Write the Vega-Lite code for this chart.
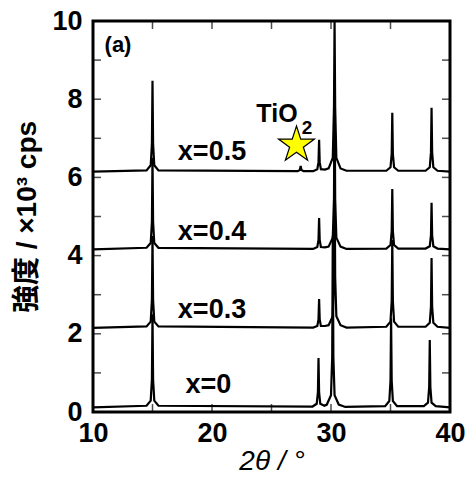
{
  "$schema": "https://vega.github.io/schema/vega-lite/v6.json",
  "width": 357,
  "height": 391,
  "autosize": "none",
  "padding": {"left": 93, "top": 21, "right": 17, "bottom": 69},
  "background": "white",
  "config": {
    "view": {"stroke": "black", "strokeWidth": 3},
    "axis": {"grid": false, "domain": false, "ticks": false, "labelColor": "black", "titleColor": "black", "labelFlush": false}
  },
  "layer": [
    {
      "data": {
        "values": [
          {"s": "x=0", "t": 10, "i": 0.12},
          {"s": "x=0", "t": 14.5, "i": 0.16},
          {"s": "x=0", "t": 14.85, "i": 0.29},
          {"s": "x=0", "t": 14.95, "i": 0.83},
          {"s": "x=0", "t": 15.0, "i": 2.5},
          {"s": "x=0", "t": 15.05, "i": 0.83},
          {"s": "x=0", "t": 15.15, "i": 0.29},
          {"s": "x=0", "t": 15.5, "i": 0.16},
          {"s": "x=0", "t": 28.45, "i": 0.14},
          {"s": "x=0", "t": 28.8, "i": 0.21},
          {"s": "x=0", "t": 28.9, "i": 0.5},
          {"s": "x=0", "t": 28.95, "i": 1.38},
          {"s": "x=0", "t": 29.0, "i": 0.5},
          {"s": "x=0", "t": 29.1, "i": 0.21},
          {"s": "x=0", "t": 29.45, "i": 0.16},
          {"s": "x=0", "t": 29.65, "i": 0.19},
          {"s": "x=0", "t": 30.0, "i": 0.43},
          {"s": "x=0", "t": 30.1, "i": 1.4},
          {"s": "x=0", "t": 30.15, "i": 4.5},
          {"s": "x=0", "t": 30.2, "i": 1.4},
          {"s": "x=0", "t": 30.3, "i": 0.43},
          {"s": "x=0", "t": 30.65, "i": 0.19},
          {"s": "x=0", "t": 31.2, "i": 0.13},
          {"s": "x=0", "t": 34.55, "i": 0.15},
          {"s": "x=0", "t": 34.9, "i": 0.28},
          {"s": "x=0", "t": 35.0, "i": 0.8},
          {"s": "x=0", "t": 35.05, "i": 2.4},
          {"s": "x=0", "t": 35.1, "i": 0.8},
          {"s": "x=0", "t": 35.2, "i": 0.28},
          {"s": "x=0", "t": 35.55, "i": 0.15},
          {"s": "x=0", "t": 37.8, "i": 0.15},
          {"s": "x=0", "t": 38.15, "i": 0.24},
          {"s": "x=0", "t": 38.25, "i": 0.64},
          {"s": "x=0", "t": 38.3, "i": 1.84},
          {"s": "x=0", "t": 38.35, "i": 0.64},
          {"s": "x=0", "t": 38.45, "i": 0.24},
          {"s": "x=0", "t": 38.8, "i": 0.15},
          {"s": "x=0", "t": 40, "i": 0.12},
          {"s": "x=0.3", "t": 10, "i": 2.15},
          {"s": "x=0.3", "t": 14.5, "i": 2.19},
          {"s": "x=0.3", "t": 14.85, "i": 2.31},
          {"s": "x=0.3", "t": 14.95, "i": 2.86},
          {"s": "x=0.3", "t": 15.0, "i": 4.5},
          {"s": "x=0.3", "t": 15.05, "i": 2.86},
          {"s": "x=0.3", "t": 15.15, "i": 2.31},
          {"s": "x=0.3", "t": 15.5, "i": 2.19},
          {"s": "x=0.3", "t": 28.5, "i": 2.16},
          {"s": "x=0.3", "t": 28.85, "i": 2.2},
          {"s": "x=0.3", "t": 28.95, "i": 2.37},
          {"s": "x=0.3", "t": 29.0, "i": 2.89},
          {"s": "x=0.3", "t": 29.05, "i": 2.37},
          {"s": "x=0.3", "t": 29.15, "i": 2.2},
          {"s": "x=0.3", "t": 29.5, "i": 2.2},
          {"s": "x=0.3", "t": 29.8, "i": 2.22},
          {"s": "x=0.3", "t": 30.15, "i": 2.45},
          {"s": "x=0.3", "t": 30.25, "i": 3.45},
          {"s": "x=0.3", "t": 30.3, "i": 6.5},
          {"s": "x=0.3", "t": 30.35, "i": 3.45},
          {"s": "x=0.3", "t": 30.45, "i": 2.45},
          {"s": "x=0.3", "t": 30.8, "i": 2.22},
          {"s": "x=0.3", "t": 31.3, "i": 2.16},
          {"s": "x=0.3", "t": 34.65, "i": 2.18},
          {"s": "x=0.3", "t": 35.0, "i": 2.31},
          {"s": "x=0.3", "t": 35.1, "i": 2.83},
          {"s": "x=0.3", "t": 35.15, "i": 4.4},
          {"s": "x=0.3", "t": 35.2, "i": 2.83},
          {"s": "x=0.3", "t": 35.3, "i": 2.31},
          {"s": "x=0.3", "t": 35.65, "i": 2.18},
          {"s": "x=0.3", "t": 37.95, "i": 2.18},
          {"s": "x=0.3", "t": 38.3, "i": 2.28},
          {"s": "x=0.3", "t": 38.4, "i": 2.69},
          {"s": "x=0.3", "t": 38.45, "i": 3.94},
          {"s": "x=0.3", "t": 38.5, "i": 2.69},
          {"s": "x=0.3", "t": 38.6, "i": 2.28},
          {"s": "x=0.3", "t": 38.95, "i": 2.18},
          {"s": "x=0.3", "t": 40, "i": 2.15},
          {"s": "x=0.4", "t": 10, "i": 4.16},
          {"s": "x=0.4", "t": 14.5, "i": 4.2},
          {"s": "x=0.4", "t": 14.85, "i": 4.32},
          {"s": "x=0.4", "t": 14.95, "i": 4.86},
          {"s": "x=0.4", "t": 15.0, "i": 6.5},
          {"s": "x=0.4", "t": 15.05, "i": 4.86},
          {"s": "x=0.4", "t": 15.15, "i": 4.32},
          {"s": "x=0.4", "t": 15.5, "i": 4.2},
          {"s": "x=0.4", "t": 28.5, "i": 4.17},
          {"s": "x=0.4", "t": 28.85, "i": 4.22},
          {"s": "x=0.4", "t": 28.95, "i": 4.4},
          {"s": "x=0.4", "t": 29.0, "i": 4.96},
          {"s": "x=0.4", "t": 29.05, "i": 4.4},
          {"s": "x=0.4", "t": 29.15, "i": 4.22},
          {"s": "x=0.4", "t": 29.5, "i": 4.21},
          {"s": "x=0.4", "t": 29.8, "i": 4.23},
          {"s": "x=0.4", "t": 30.15, "i": 4.46},
          {"s": "x=0.4", "t": 30.25, "i": 5.46},
          {"s": "x=0.4", "t": 30.3, "i": 8.5},
          {"s": "x=0.4", "t": 30.35, "i": 5.46},
          {"s": "x=0.4", "t": 30.45, "i": 4.46},
          {"s": "x=0.4", "t": 30.8, "i": 4.23},
          {"s": "x=0.4", "t": 31.3, "i": 4.17},
          {"s": "x=0.4", "t": 34.65, "i": 4.18},
          {"s": "x=0.4", "t": 35.0, "i": 4.27},
          {"s": "x=0.4", "t": 35.1, "i": 4.62},
          {"s": "x=0.4", "t": 35.15, "i": 5.7},
          {"s": "x=0.4", "t": 35.2, "i": 4.62},
          {"s": "x=0.4", "t": 35.3, "i": 4.27},
          {"s": "x=0.4", "t": 35.65, "i": 4.18},
          {"s": "x=0.4", "t": 37.95, "i": 4.18},
          {"s": "x=0.4", "t": 38.3, "i": 4.24},
          {"s": "x=0.4", "t": 38.4, "i": 4.52},
          {"s": "x=0.4", "t": 38.45, "i": 5.35},
          {"s": "x=0.4", "t": 38.5, "i": 4.52},
          {"s": "x=0.4", "t": 38.6, "i": 4.24},
          {"s": "x=0.4", "t": 38.95, "i": 4.18},
          {"s": "x=0.4", "t": 40, "i": 4.16},
          {"s": "x=0.5", "t": 10, "i": 6.15},
          {"s": "x=0.5", "t": 14.5, "i": 6.18},
          {"s": "x=0.5", "t": 14.85, "i": 6.31},
          {"s": "x=0.5", "t": 14.95, "i": 6.85},
          {"s": "x=0.5", "t": 15.0, "i": 8.47},
          {"s": "x=0.5", "t": 15.05, "i": 6.85},
          {"s": "x=0.5", "t": 15.15, "i": 6.31},
          {"s": "x=0.5", "t": 15.5, "i": 6.18},
          {"s": "x=0.5", "t": 27.2, "i": 6.16},
          {"s": "x=0.5", "t": 27.38, "i": 6.19},
          {"s": "x=0.5", "t": 27.45, "i": 6.29},
          {"s": "x=0.5", "t": 27.52, "i": 6.19},
          {"s": "x=0.5", "t": 27.7, "i": 6.16},
          {"s": "x=0.5", "t": 28.5, "i": 6.16},
          {"s": "x=0.5", "t": 28.85, "i": 6.21},
          {"s": "x=0.5", "t": 28.95, "i": 6.39},
          {"s": "x=0.5", "t": 29.0, "i": 6.96},
          {"s": "x=0.5", "t": 29.05, "i": 6.39},
          {"s": "x=0.5", "t": 29.15, "i": 6.21},
          {"s": "x=0.5", "t": 29.5, "i": 6.2},
          {"s": "x=0.5", "t": 29.8, "i": 6.23},
          {"s": "x=0.5", "t": 30.15, "i": 6.5},
          {"s": "x=0.5", "t": 30.25, "i": 7.8},
          {"s": "x=0.5", "t": 30.3, "i": 10},
          {"s": "x=0.5", "t": 30.35, "i": 7.8},
          {"s": "x=0.5", "t": 30.45, "i": 6.5},
          {"s": "x=0.5", "t": 30.8, "i": 6.23},
          {"s": "x=0.5", "t": 31.3, "i": 6.17},
          {"s": "x=0.5", "t": 34.65, "i": 6.17},
          {"s": "x=0.5", "t": 35.0, "i": 6.26},
          {"s": "x=0.5", "t": 35.1, "i": 6.6},
          {"s": "x=0.5", "t": 35.15, "i": 7.65},
          {"s": "x=0.5", "t": 35.2, "i": 6.6},
          {"s": "x=0.5", "t": 35.3, "i": 6.26},
          {"s": "x=0.5", "t": 35.65, "i": 6.17},
          {"s": "x=0.5", "t": 37.95, "i": 6.17},
          {"s": "x=0.5", "t": 38.3, "i": 6.26},
          {"s": "x=0.5", "t": 38.4, "i": 6.64},
          {"s": "x=0.5", "t": 38.45, "i": 7.78},
          {"s": "x=0.5", "t": 38.5, "i": 6.64},
          {"s": "x=0.5", "t": 38.6, "i": 6.26},
          {"s": "x=0.5", "t": 38.95, "i": 6.17},
          {"s": "x=0.5", "t": 40, "i": 6.15}
        ]
      },
      "mark": {"type": "line", "color": "black", "strokeWidth": 2.2},
      "encoding": {
        "x": {
          "field": "t", "type": "quantitative",
          "scale": {"domain": [10, 40], "nice": false, "zero": false},
          "axis": {
            "orient": "bottom",
            "values": [10, 20, 30, 40],
            "labelFont": "Liberation Sans",
            "labelFontSize": 27,
            "labelFontWeight": "bold",
            "labelPadding": 8,
            "title": "2θ / °",
            "titleFont": "Liberation Sans",
            "titleFontSize": 28,
            "titleFontStyle": "italic",
            "titleFontWeight": "normal",
            "titlePadding": 1
          }
        },
        "y": {
          "field": "i", "type": "quantitative",
          "scale": {"domain": [0, 10], "nice": false, "zero": false},
          "axis": {
            "orient": "left",
            "values": [0, 2, 4, 6, 8, 10],
            "labelFont": "Liberation Sans",
            "labelFontSize": 27,
            "labelFontWeight": "bold",
            "labelPadding": 11,
            "title": "強度 / ×10³ cps",
            "titleFont": "Liberation Sans, Noto Sans CJK JP",
            "titleFontSize": 28,
            "titleFontWeight": "bold",
            "titlePadding": 10
          }
        },
        "detail": {"field": "s", "type": "nominal"}
      }
    },
    {
      "data": {"values": [{"t": 15}, {"t": 20}, {"t": 25}, {"t": 30}, {"t": 35}]},
      "mark": {"type": "tick", "orient": "vertical", "color": "black", "thickness": 1.5, "size": 8, "yOffset": -4},
      "encoding": {
        "x": {"field": "t", "type": "quantitative"},
        "y": {"datum": 0, "type": "quantitative"}
      }
    },
    {
      "data": {"values": [{"t": 15}, {"t": 20}, {"t": 25}, {"t": 30}, {"t": 35}]},
      "mark": {"type": "tick", "orient": "vertical", "color": "black", "thickness": 1.5, "size": 8, "yOffset": 4},
      "encoding": {
        "x": {"field": "t", "type": "quantitative"},
        "y": {"datum": 10, "type": "quantitative"}
      }
    },
    {
      "data": {"values": [{"i": 1}, {"i": 2}, {"i": 3}, {"i": 4}, {"i": 5}, {"i": 6}, {"i": 7}, {"i": 8}, {"i": 9}]},
      "mark": {"type": "tick", "orient": "horizontal", "color": "black", "thickness": 1.5, "size": 8, "xOffset": 4},
      "encoding": {
        "x": {"datum": 10, "type": "quantitative"},
        "y": {"field": "i", "type": "quantitative"}
      }
    },
    {
      "data": {"values": [{"i": 1}, {"i": 2}, {"i": 3}, {"i": 4}, {"i": 5}, {"i": 6}, {"i": 7}, {"i": 8}, {"i": 9}]},
      "mark": {"type": "tick", "orient": "horizontal", "color": "black", "thickness": 1.5, "size": 8, "xOffset": -4},
      "encoding": {
        "x": {"datum": 40, "type": "quantitative"},
        "y": {"field": "i", "type": "quantitative"}
      }
    },
    {
      "data": {"values": [{"t": 27.1, "i": 6.83}]},
      "mark": {
        "type": "point",
        "shape": "M0,-1L0.2245,-0.309L0.951,-0.309L0.3633,0.118L0.588,0.809L0,0.382L-0.588,0.809L-0.3633,0.118L-0.951,-0.309L-0.2245,-0.309Z",
        "filled": true, "fill": "#ffff00", "stroke": "black", "strokeWidth": 1.2, "size": 1430, "opacity": 1
      },
      "encoding": {
        "x": {"field": "t", "type": "quantitative"},
        "y": {"field": "i", "type": "quantitative"}
      }
    },
    {
      "data": {
        "values": [
          {"t": 20.0, "i": 6.65, "txt": "x=0.5"},
          {"t": 20.0, "i": 4.6, "txt": "x=0.4"},
          {"t": 20.0, "i": 2.6, "txt": "x=0.3"},
          {"t": 19.7, "i": 0.69, "txt": "x=0"}
        ]
      },
      "mark": {"type": "text", "font": "Liberation Sans", "fontSize": 27, "fontWeight": "bold", "color": "black", "align": "center", "baseline": "middle"},
      "encoding": {
        "x": {"field": "t", "type": "quantitative"},
        "y": {"field": "i", "type": "quantitative"},
        "text": {"field": "txt"}
      }
    },
    {
      "data": {"values": [{"t": 25.46, "i": 7.62, "txt": "TiO"}]},
      "mark": {"type": "text", "font": "Liberation Sans", "fontSize": 25, "fontWeight": "bold", "color": "black", "align": "center", "baseline": "middle"},
      "encoding": {
        "x": {"field": "t", "type": "quantitative"},
        "y": {"field": "i", "type": "quantitative"},
        "text": {"field": "txt"}
      }
    },
    {
      "data": {"values": [{"t": 27.98, "i": 7.26, "txt": "2"}]},
      "mark": {"type": "text", "font": "Liberation Sans", "fontSize": 19, "fontWeight": "bold", "color": "black", "align": "center", "baseline": "middle"},
      "encoding": {
        "x": {"field": "t", "type": "quantitative"},
        "y": {"field": "i", "type": "quantitative"},
        "text": {"field": "txt"}
      }
    },
    {
      "data": {"values": [{"t": 12.1, "i": 9.39, "txt": "(a)"}]},
      "mark": {"type": "text", "font": "Liberation Sans", "fontSize": 22, "fontWeight": "bold", "color": "black", "align": "center", "baseline": "middle"},
      "encoding": {
        "x": {"field": "t", "type": "quantitative"},
        "y": {"field": "i", "type": "quantitative"},
        "text": {"field": "txt"}
      }
    }
  ]
}
